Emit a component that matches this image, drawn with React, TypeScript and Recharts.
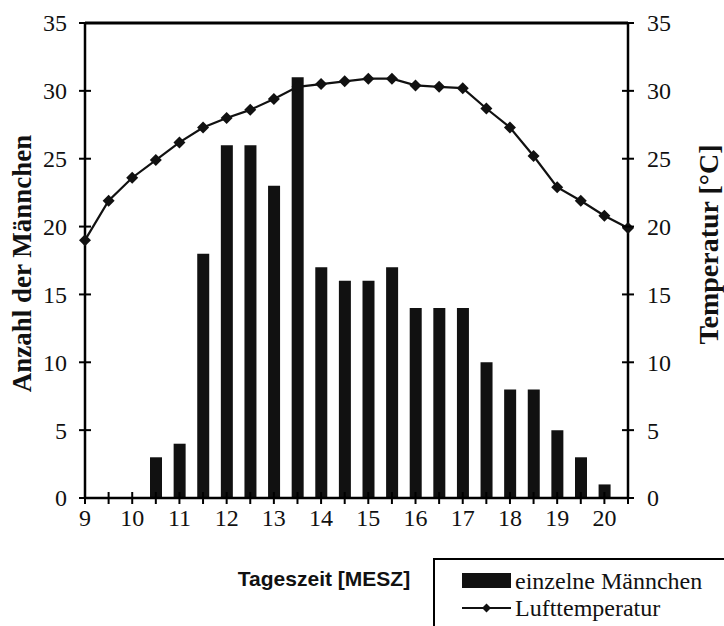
import React from 'react';
import { ComposedChart, Bar, Line, XAxis, YAxis, ReferenceLine, Legend } from 'recharts';

// Tageszeit in halben Stunden
const times = [9, 9.5, 10, 10.5, 11, 11.5, 12, 12.5, 13, 13.5, 14, 14.5, 15, 15.5, 16, 16.5, 17, 17.5, 18, 18.5, 19, 19.5, 20, 20.5];
// einzelne Männchen (letzter Zeitpunkt ohne Zählung)
const males = [0, 0, 0, 3, 4, 18, 26, 26, 23, 31, 17, 16, 16, 17, 14, 14, 14, 10, 8, 8, 5, 3, 1, null];
// Lufttemperatur in °C
const temps = [19.0, 21.9, 23.6, 24.9, 26.2, 27.3, 28.0, 28.6, 29.4, 30.3, 30.5, 30.7, 30.9, 30.9, 30.4, 30.3, 30.2, 28.7, 27.3, 25.2, 22.9, 21.9, 20.8, 19.9];
const yTicks = [0, 5, 10, 15, 20, 25, 30, 35];

const data = times.map((t, i) => ({ t, males: males[i], temp: temps[i] }));

const SERIF = '"Liberation Serif", "Times New Roman", serif';
const SANS = '"Liberation Sans", Arial, sans-serif';
const tickText = { fontFamily: SERIF, fontSize: 24, fill: '#111' };

const XTick = (props: any) => {
  const { x, y, payload } = props;
  const axisY = y - 6 - 5;
  const v = payload.value;
  return (
    <g>
      <line x1={x} x2={x} y1={axisY - 6} y2={axisY + 6} stroke="#000" strokeWidth={2} />
      {Number.isInteger(v) && (
        <text x={x} y={y} dy="0.7em" textAnchor="middle" style={tickText}>
          {v}
        </text>
      )}
    </g>
  );
};

const LeftTick = (props: any) => {
  const { x, y, payload } = props;
  const axisX = x + 6 + 12;
  return (
    <g>
      <line x1={axisX - 6} x2={axisX + 6} y1={y} y2={y} stroke="#000" strokeWidth={2} />
      <text x={x} y={y} dy="0.35em" textAnchor="end" style={tickText}>
        {payload.value}
      </text>
    </g>
  );
};

const RightTick = (props: any) => {
  const { x, y, payload } = props;
  const axisX = x - 6 - 13;
  return (
    <g>
      <line x1={axisX - 6} x2={axisX + 6} y1={y} y2={y} stroke="#000" strokeWidth={2} />
      <text x={x} y={y} dy="0.35em" textAnchor="start" style={tickText}>
        {payload.value}
      </text>
    </g>
  );
};

const Diamond = (props: any) => {
  const { cx, cy } = props;
  if (cx == null || cy == null) return null;
  const r = 6;
  return <polygon points={`${cx},${cy - r} ${cx + r},${cy} ${cx},${cy + r} ${cx - r},${cy}`} fill="#111" />;
};

const LeftTitle = (props: any) => {
  const { x, y, height } = props.viewBox;
  const cx = x + 22;
  const cy = y + height / 2 + 3;
  return (
    <text x={cx} y={cy} dy="0.35em" transform={`rotate(-90, ${cx}, ${cy})`} textAnchor="middle"
      style={{ fontFamily: SERIF, fontWeight: 'bold', fontSize: 27, fill: '#111' }}>
      Anzahl der Männchen
    </text>
  );
};

const RightTitle = (props: any) => {
  const { x, y, height } = props.viewBox;
  const cx = x + 80;
  const cy = y + height / 2 - 16;
  return (
    <text x={cx} y={cy} dy="0.35em" transform={`rotate(-90, ${cx}, ${cy})`} textAnchor="middle"
      style={{ fontFamily: SERIF, fontWeight: 'bold', fontSize: 28, fill: '#111' }}>
      Temperatur [°C]
    </text>
  );
};

const XTitle = (props: any) => {
  const { x, y } = props.viewBox;
  return (
    <text x={x + 239} y={y + 81} dy="0.35em" textAnchor="middle"
      style={{ fontFamily: SANS, fontWeight: 'bold', fontSize: 21, fill: '#111' }}>
      Tageszeit [MESZ]
    </text>
  );
};

const legendText = { fontFamily: SERIF, fontSize: 24, fill: '#111' };

const LegendBox = () => (
  <svg width={300} height={80}>
    <rect x={27} y={13} width={49} height={15} fill="#111" />
    <text x={80} y={21} dy="0.35em" style={legendText}>einzelne Männchen</text>
    <line x1={27} x2={76} y1={48} y2={48} stroke="#111" strokeWidth={2} />
    <polygon points="51.5,43.5 56,48 51.5,52.5 47,48" fill="#111" />
    <text x={80} y={48} dy="0.35em" style={legendText}>Lufttemperatur</text>
  </svg>
);

export default function App() {
  return (
    <div style={{ position: 'absolute', left: 0, top: 0, width: 724, height: 626, overflow: 'hidden', background: '#fff' }}>
      <ComposedChart width={724} height={626} data={data} margin={{ top: 23, right: 0, bottom: 0, left: 0 }}>
        <XAxis
          dataKey="t"
          type="number"
          domain={[9, 20.5]}
          ticks={times}
          interval={0}
          height={128}
          tickSize={6}
          tickMargin={5}
          tickLine={false}
          tick={<XTick />}
          axisLine={{ stroke: '#000', strokeWidth: 2.5 }}
          label={<XTitle />}
        />
        <YAxis
          yAxisId="left"
          domain={[0, 35]}
          ticks={yTicks}
          interval={0}
          width={85}
          tickSize={6}
          tickMargin={12}
          tickLine={false}
          tick={<LeftTick />}
          axisLine={{ stroke: '#000', strokeWidth: 2.5 }}
          label={<LeftTitle />}
        />
        <YAxis
          yAxisId="right"
          orientation="right"
          domain={[0, 35]}
          ticks={yTicks}
          interval={0}
          width={96}
          tickSize={6}
          tickMargin={13}
          tickLine={false}
          tick={<RightTick />}
          axisLine={{ stroke: '#000', strokeWidth: 2.5 }}
          label={<RightTitle />}
        />
        <ReferenceLine yAxisId="left" y={35} stroke="#000" strokeWidth={3} />
        <Bar yAxisId="left" dataKey="males" name="einzelne Männchen" fill="#111" barSize={12} isAnimationActive={false} />
        <Line
          yAxisId="right"
          dataKey="temp"
          name="Lufttemperatur"
          type="linear"
          stroke="#111"
          strokeWidth={2.2}
          dot={<Diamond />}
          activeDot={false}
          isAnimationActive={false}
        />
        <Legend
          layout="horizontal"
          verticalAlign="middle"
          align="center"
          content={<LegendBox />}
          wrapperStyle={{ position: 'absolute', left: 433, top: 558, width: 320, height: 100, border: '2px solid #000', background: '#fff', margin: 0, padding: 0 }}
        />
      </ComposedChart>
    </div>
  );
}
